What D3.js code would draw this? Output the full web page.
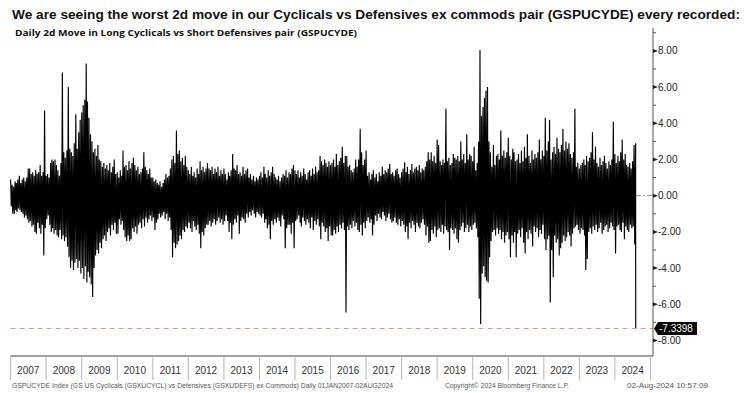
<!DOCTYPE html>
<html>
<head>
<meta charset="utf-8">
<script src="https://cdn.jsdelivr.net/npm/d3@7/dist/d3.min.js"></script>
<style>
  body { margin: 0; background: #fff; }
  svg { display: block; font-family: "Liberation Sans Narrow", "Liberation Sans", Arial, sans-serif; }
</style>
</head>
<body>
<svg id="chart" width="750" height="393"></svg>
<script>
// years on the x axis, one row of half-month readings per year
const years = d3.range(2007, 2025);

// highest 2d move in each half month
const hiByYear = [
  [0.9,0.6,0.5,0.8,0.7,0.9,1.1,0.7,0.9,1.0,0.8,1.0,1.5,1.5,1.2,1.3,1.1,1.4,1.2,1.3,1.7,1.1,1.3,4.7],
  [1.1,1.2,1.0,1.8,2.0,1.9,2.0,1.7,1.4,1.1,1.8,6.8,2.4,2.1,2.5,6.0,2.6,2.4,2.2,2.9,4.5,2.6,3.5,4.2],
  [4.6,5.0,5.3,7.3,5.2,4.3,3.4,3.0,2.4,2.6,2.2,2.8,2.0,1.9,1.6,1.8,1.5,1.7,1.4,1.8,1.3,1.6,2.0,1.2],
  [1.3,1.0,1.4,1.1,2.5,1.6,1.7,1.4,1.9,1.5,1.8,2.1,1.7,1.4,1.6,1.2,1.3,1.5,2.4,1.6,1.4,1.2,1.5,1.0],
  [1.0,0.8,0.9,0.7,0.6,0.8,0.5,0.7,0.9,1.2,1.0,1.1,1.5,2.0,2.2,1.8,3.6,2.3,2.5,1.9,2.1,1.7,2.2,1.6],
  [1.4,1.2,1.6,1.1,1.3,1.0,1.5,1.2,1.9,1.4,1.6,1.3,1.5,1.8,1.5,1.4,1.6,1.2,1.5,1.3,1.6,1.1,1.4,1.2],
  [1.5,1.2,0.9,1.3,1.1,1.4,2.3,1.5,1.4,1.7,1.2,1.3,1.1,1.6,1.2,1.4,1.5,1.0,1.2,0.9,1.1,0.8,1.0,0.9],
  [1.1,1.3,1.0,1.6,1.2,1.0,1.4,1.1,1.3,1.6,1.2,1.0,0.9,1.1,0.8,1.0,1.2,1.1,1.4,1.0,1.3,1.2,1.5,1.7],
  [1.4,1.2,1.4,1.0,1.3,1.1,1.5,1.2,0.9,1.3,1.4,1.1,1.5,1.2,1.6,1.3,1.4,2.2,1.9,1.7,2.0,1.8,1.6,1.9],
  [1.7,1.8,2.0,1.6,2.3,1.7,1.9,2.1,2.7,1.8,2.2,2.2,1.6,1.7,1.4,1.3,1.5,2.0,1.6,2.0,3.7,2.4,1.7,2.0],
  [2.5,1.1,1.3,0.9,1.2,1.4,1.0,1.2,0.8,1.3,1.1,1.6,1.2,1.4,1.3,1.5,1.75,1.2,1.3,1.1,1.4,1.5,1.2,1.0],
  [1.3,1.5,1.85,1.3,1.6,1.2,1.4,1.75,1.3,1.5,1.6,1.4,1.7,1.3,1.5,1.4,1.6,1.9,2.4,2.0,2.4,1.9,2.2,1.8],
  [3.1,2.8,1.9,1.7,2.0,1.8,4.8,1.9,2.1,1.7,1.8,2.3,2.1,2.0,2.2,1.9,3.0,2.0,2.3,1.8,3.4,2.0,2.3,2.2],
  [1.9,2.7,1.4,1.8,3.0,8.05,4.4,4.9,5.4,5.8,6.0,3.0,2.4,1.6,2.8,1.7,2.2,2.3,2.0,3.6,2.2,2.5,2.1,2.4],
  [3.2,2.2,2.0,2.6,2.4,1.9,2.0,2.3,1.8,2.5,1.9,2.7,2.1,3.4,2.2,1.8,2.5,2.0,2.3,2.1,2.4,3.1,2.0,2.5],
  [2.2,4.3,2.5,3.0,4.2,2.0,2.4,2.7,2.3,3.2,2.6,2.4,2.8,3.7,2.5,3.0,2.6,2.9,2.3,2.1,2.4,4.8,1.6,1.8],
  [1.5,1.7,1.8,2.0,1.7,2.2,1.9,2.1,2.4,3.5,2.0,2.7,1.8,1.6,2.1,1.7,1.9,2.2,1.8,1.5,1.9,1.7,2.0,4.1],
  [2.3,1.8,2.2,1.9,2.4,3.1,2.0,2.3,1.7,1.6,1.8,1.5,1.9,2.8,2.9]
];

// lowest 2d move in each half month
const loByYear = [
  [-0.6,-1.0,-1.0,-0.8,-0.9,-0.7,-0.8,-0.9,-1.0,-1.2,-1.1,-1.3,-1.5,-1.4,-1.7,-1.6,-2.0,-2.1,-1.5,-1.8,-2.1,-1.6,-3.3,-1.8],
  [-1.3,-1.1,-1.6,-2.0,-1.8,-2.1,-1.9,-2.2,-2.3,-1.9,-2.4,-2.2,-2.5,-2.3,-2.8,-3.4,-4.0,-3.6,-4.1,-3.7,-3.5,-4.0,-3.6,-4.3],
  [-4.0,-4.6,-3.9,-4.8,-4.2,-4.5,-4.9,-5.6,-4.0,-3.3,-3.0,-3.2,-2.6,-2.9,-2.4,-2.2,-2.5,-2.0,-1.8,-2.2,-1.6,-1.9,-1.5,-2.1],
  [-2.1,-1.3,-1.6,-1.4,-1.9,-2.3,-2.5,-2.2,-2.5,-2.4,-1.8,-2.0,-1.7,-2.1,-1.6,-1.5,-1.8,-1.3,-1.7,-1.2,-1.5,-1.3,-1.1,-1.4],
  [-1.2,-1.9,-1.5,-1.3,-1.0,-1.2,-1.1,-0.9,-1.3,-1.0,-1.4,-1.2,-1.9,-3.4,-2.6,-2.9,-2.7,-2.5,-2.2,-2.4,-1.9,-2.0,-1.7,-1.8],
  [-1.5,-1.8,-2.0,-1.4,-1.7,-1.9,-1.6,-2.1,-2.9,-2.0,-2.2,-1.8,-1.6,-1.6,-1.4,-1.7,-1.5,-1.3,-1.6,-1.4,-1.2,-1.5,-1.3,-1.6],
  [-1.4,-1.1,-1.4,-2.0,-1.5,-2.4,-1.6,-1.3,-1.5,-1.1,-2.1,-1.4,-1.2,-1.3,-1.5,-1.0,-1.2,-0.9,-1.1,-0.8,-1.0,-1.2,-0.9,-1.0],
  [-1.1,-1.2,-1.0,-1.5,-1.3,-1.8,-1.6,-2.4,-1.4,-1.6,-1.3,-1.5,-1.2,-1.4,-1.7,-1.1,-1.3,-2.9,-1.8,-1.6,-1.6,-2.1,-1.5,-2.9],
  [-1.4,-1.3,-1.1,-1.5,-1.7,-1.2,-1.4,-1.6,-1.3,-1.5,-1.8,-1.2,-1.9,-1.4,-1.6,-1.3,-1.7,-2.4,-1.5,-1.7,-2.0,-1.8,-2.5,-1.7],
  [-2.2,-2.2,-1.9,-2.1,-1.7,-2.0,-1.6,-1.8,-1.5,-1.9,-6.45,-1.7,-1.9,-1.6,-1.8,-1.4,-1.7,-1.5,-1.9,-2.0,-1.6,-2.2,-1.5,-1.8],
  [-1.4,-1.2,-1.5,-1.3,-2.2,-1.6,-1.1,-1.4,-1.0,-1.2,-1.3,-0.9,-1.1,-1.4,-1.2,-1.0,-1.3,-1.5,-1.4,-1.2,-1.5,-1.6,-1.3,-1.7],
  [-1.4,-1.6,-2.0,-1.7,-2.4,-1.5,-1.8,-1.4,-1.6,-2.0,-1.5,-1.7,-1.8,-1.5,-1.3,-1.6,-2.2,-1.7,-2.6,-2.5,-1.9,-2.1,-1.7,-2.3],
  [-1.9,-1.8,-2.0,-1.6,-2.1,-1.7,-1.9,-2.0,-3.0,-1.8,-1.9,-2.1,-1.8,-2.4,-2.6,-1.9,-1.7,-1.5,-2.0,-1.8,-1.6,-2.0,-1.7,-1.9],
  [-1.6,-1.5,-1.8,-2.3,-5.7,-7.1,-4.3,-3.9,-4.5,-4.7,-4.8,-3.4,-2.5,-2.0,-1.9,-2.2,-1.8,-2.1,-1.9,-2.4,-2.0,-2.6,-2.2,-2.0],
  [-2.4,-3.4,-2.2,-2.6,-2.0,-3.4,-2.1,-1.9,-2.3,-1.8,-2.6,-3.2,-2.0,-2.4,-1.9,-2.1,-2.8,-1.7,-2.0,-1.8,-2.3,-1.9,-2.1,-1.6],
  [-2.4,-3.0,-2.4,-2.2,-5.9,-3.0,-4.5,-2.2,-2.6,-2.4,-3.3,-2.9,-2.6,-2.2,-2.5,-2.3,-2.0,-2.2,-2.8,-2.1,-1.8,-1.7,-1.6,-1.9],
  [-2.1,-1.8,-1.9,-2.2,-4.1,-3.5,-2.0,-1.8,-2.1,-1.7,-1.9,-1.6,-2.0,-1.8,-1.5,-2.1,-1.9,-1.7,-1.6,-2.0,-1.8,-1.5,-1.7,-1.9],
  [-3.2,-1.7,-1.6,-1.9,-2.0,-1.5,-2.4,-1.7,-1.9,-2.0,-1.6,-1.8,-1.7,-2.7,-7.3398]
];

const yTicks = [8, 6, 4, 2, 0, -2, -4, -6, -8];
const yMinor = [9, 7, 5, 3, 1, -1, -3, -5, -7];
const lastValue = -7.3398;
const endDate = new Date(2024, 7, 2);

const title = "We are seeing the worst 2d move in our Cyclicals vs Defensives ex commods pair (GSPUCYDE) every recorded:";
const subtitle = "Daily 2d Move in Long Cyclicals vs Short Defensives pair (GSPUCYDE)";
const footLeft = "GSPUCYDE Index (GS US Cyclicals (GSXUCYCL) vs Defensives (GSXUDEFS) ex Commods)  Daily 01JAN2007-02AUG2024";
const footMid = "Copyright\u00A9 2024 Bloomberg Finance L.P.";
const footRight = "02-Aug-2024 10:57:09";

const svg = d3.select("#chart");

const x = d3.scaleTime()
    .domain([new Date(2007, 0, 1), new Date(2025, 0, 1)])
    .range([10.6, 650.5]);
const y = d3.scaleLinear().domain([-8, 8]).range([340.5, 50.9]);

const axisX = 653, baseY = 356;

// flatten: high then low inside each half month
let series = [];
years.forEach(function(yr, k) {
    hiByYear[k].forEach(function(h, i) {
        let d0 = new Date(yr, Math.floor(i / 2), i % 2 ? 16 : 1);
        let d1 = d3.timeDay.offset(d0, 7);
        if (d1 > endDate) d1 = endDate;
        series.push({date: d0, value: h});
        series.push({date: d1, value: loByYear[k][i]});
    });
});

// titles
svg.append("text")
    .attr("x", 12).attr("y", 19)
    .attr("textLength", 728).attr("lengthAdjust", "spacingAndGlyphs")
    .style("font-family", "'Liberation Sans', Arial, sans-serif")
    .style("font-size", "13.5px").style("font-weight", "bold").attr("fill", "#111")
    .text(title);

svg.append("text")
    .attr("x", 15).attr("y", 36)
    .attr("textLength", 342).attr("lengthAdjust", "spacingAndGlyphs")
    .style("font-family", "'Open Sans', 'DejaVu Sans', sans-serif")
    .style("font-size", "9.5px").style("font-weight", "bold").attr("fill", "#111")
    .text(subtitle);

// zero line
svg.append("line")
    .attr("x1", x.range()[0]).attr("x2", axisX)
    .attr("y1", y(0)).attr("y2", y(0))
    .attr("stroke", "#8a8a8a").attr("stroke-width", 1)
    .attr("stroke-dasharray", "6,2,2,2");

// the series
svg.append("path")
    .datum(series)
    .attr("fill", "none")
    .attr("stroke", "#000")
    .attr("stroke-width", 1.15)
    .attr("stroke-linejoin", "miter")
    .attr("d", d3.line().x(d => x(d.date)).y(d => y(d.value)));

// last value line
svg.append("line")
    .attr("x1", x.range()[0]).attr("x2", axisX)
    .attr("y1", y(lastValue)).attr("y2", y(lastValue))
    .attr("stroke", "#e48c8c").attr("stroke-width", 1)
    .attr("stroke-dasharray", "5,4");

// right axis
svg.append("line")
    .attr("x1", axisX).attr("x2", axisX)
    .attr("y1", 28).attr("y2", baseY)
    .attr("stroke", "#555").attr("stroke-width", 1);

svg.selectAll(".minor").data(yMinor).enter().append("line")
    .attr("class", "minor")
    .attr("x1", axisX).attr("x2", axisX + 3)
    .attr("y1", d => y(d)).attr("y2", d => y(d))
    .attr("stroke", "#555");

svg.selectAll(".major").data(yTicks).enter().append("path")
    .attr("class", "major")
    .attr("d", d => "M" + axisX + "," + (y(d) - 2) + "L" + (axisX + 5) + "," + y(d) + "L" + axisX + "," + (y(d) + 2) + "Z")
    .attr("fill", "#222");

svg.selectAll(".ylab").data(yTicks).enter().append("text")
    .attr("class", "ylab")
    .attr("x", axisX + 5).attr("y", d => y(d) + 3.5)
    .style("font-size", "10px").attr("fill", "#222")
    .text(d => d.toFixed(2));

// last value tag
let tagY = y(lastValue);
svg.append("path")
    .attr("d", "M" + (axisX + 1) + "," + tagY + "L" + (axisX + 5) + "," + (tagY - 6.5) +
        "L" + 697 + "," + (tagY - 6.5) + "L" + 697 + "," + (tagY + 6.5) +
        "L" + (axisX + 5) + "," + (tagY + 6.5) + "Z")
    .attr("fill", "#000");
svg.append("text")
    .attr("x", axisX + 6).attr("y", tagY + 3.6)
    .style("font-size", "10px").attr("fill", "#fff")
    .text(lastValue.toFixed(4));

// bottom axis with year boxes
svg.append("line")
    .attr("x1", x.range()[0]).attr("x2", axisX)
    .attr("y1", baseY).attr("y2", baseY)
    .attr("stroke", "#444").attr("stroke-width", 1.2);

let yearEdges = years.concat([2025]);
svg.selectAll(".ysep").data(yearEdges).enter().append("line")
    .attr("class", "ysep")
    .attr("x1", d => x(new Date(d, 0, 1))).attr("x2", d => x(new Date(d, 0, 1)))
    .attr("y1", baseY).attr("y2", 380)
    .attr("stroke", "#b5b5b5");

svg.selectAll(".xlab").data(years).enter().append("text")
    .attr("class", "xlab")
    .attr("x", d => x(new Date(d, 6, 1)))
    .attr("y", 374)
    .attr("text-anchor", "middle")
    .style("font-size", "10px").attr("fill", "#333")
    .text(d => d);

// footer
const foot = [
    {t: footLeft, x: 12, w: 381},
    {t: footMid, x: 445, w: 124},
    {t: footRight, x: 627, w: 81}
];
svg.selectAll(".foot").data(foot).enter().append("text")
    .attr("class", "foot")
    .attr("x", d => d.x).attr("y", 388)
    .attr("textLength", d => d.w).attr("lengthAdjust", "spacingAndGlyphs")
    .style("font-size", "6.5px").attr("fill", "#555")
    .text(d => d.t);
</script>
</body>
</html>
